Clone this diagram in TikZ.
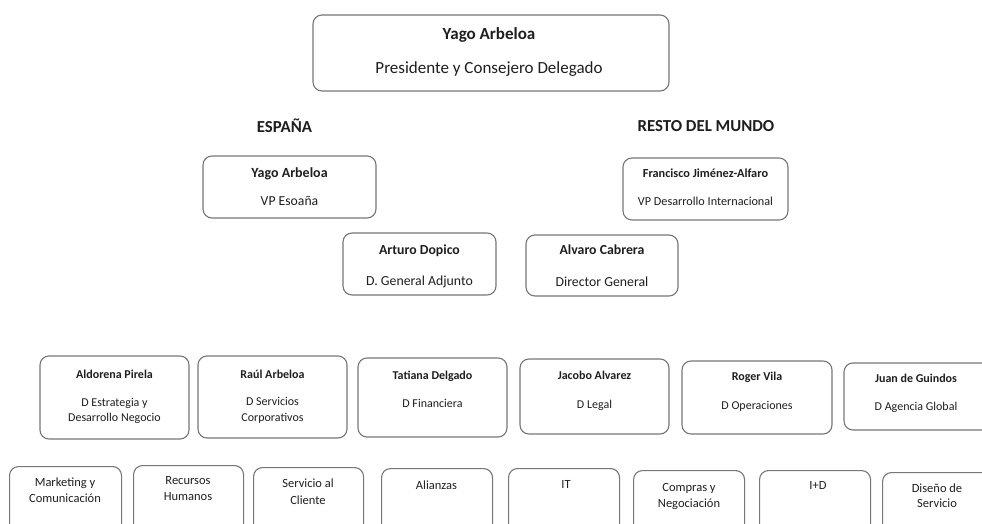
\documentclass[tikz,border=0pt]{standalone}
\usepackage{fontspec}
\setmainfont{Carlito}
\usepackage{tikz}
\usetikzlibrary{positioning}
\definecolor{bordegris}{RGB}{118,118,118}
\definecolor{textogris}{RGB}{30,30,30}
\tikzset{
 cargo/.style={draw=bordegris, line width=1.1pt, rounded corners=9pt},
 nombre/.style={text=textogris, anchor=mid, inner sep=0pt, font=\bfseries\fontsize{#1}{#1}\selectfont},
 nombre/.default=12,
 puesto/.style={text=textogris, anchor=mid, inner sep=0pt, font=\fontsize{#1}{#1}\selectfont},
 puesto/.default=12,
 area/.style={cargo, anchor=north west, minimum height=90pt}
}

\begin{document}
\begin{tikzpicture}[x=1pt, y=-1pt]
 \useasboundingbox (0,0) rectangle (982,524);
 \clip (0,0) rectangle (982,524);
 % presidencia
 \node[cargo, minimum width=356pt, minimum height=76pt] (presidente) at (491,53) {};
 \node[nombre=17] (presidenteN) at (489,37) {Yago Arbeloa};
 \node[puesto=17] (presidenteP) at (489,71) {Presidente y Consejero Delegado};
 \node[nombre=16.8] (espana) at (284.5,130) {ESPAÑA};
 \node[nombre=16.8] (mundo) at (706,129) {RESTO DEL MUNDO};
 % vicepresidencias
 \node[cargo, minimum width=173pt, minimum height=62pt] (vpEsp) at (289.5,187) {};
 \node[nombre=14] (vpEspN) at (289.5,175) {Yago Arbeloa};
 \node[puesto=13.7] (vpEspP) at (289.5,203) {VP Esoaña};
 \node[cargo, minimum width=165pt, minimum height=62pt] (vpInt) at (705.5,189) {};
 \node[nombre=12.3] (vpIntN) at (705.5,175) {Francisco Jiménez-Alfaro};
 \node[puesto=12.2] (vpIntP) at (705.5,203) {VP Desarrollo Internacional};
 \node[cargo, minimum width=153pt, minimum height=62pt] (adjunto) at (419.5,264) {};
 \node[nombre=13.8] (adjuntoN) at (419.5,252) {Arturo Dopico};
 \node[puesto=13.8] (adjuntoP) at (419.5,283) {D. General Adjunto};
 \node[cargo, minimum width=152pt, minimum height=61pt] (general) at (602,265.5) {};
 \node[nombre=13.8] (generalN) at (602,252) {Alvaro Cabrera};
 \node[puesto=13.8] (generalP) at (602,284) {Director General};
 % direcciones
 \node[cargo, minimum width=149pt, minimum height=83pt] (estrategia) at (114.5,397.5) {};
 \node[nombre] (estrategiaN) at (114.5,376) {Aldorena Pirela};
 \node[puesto] (estrategiaP) at (114.5,404) {D Estrategia y};
 \node[puesto] (estrategiaQ) at (114.5,419) {Desarrollo Negocio};
 \node[cargo, minimum width=149pt, minimum height=82pt] (servicios) at (272.5,397) {};
 \node[nombre] (serviciosN) at (272.5,376) {Raúl Arbeloa};
 \node[puesto] (serviciosP) at (272.5,403) {D Servicios};
 \node[puesto] (serviciosQ) at (272.5,419) {Corporativos};
 \node[cargo, minimum width=149pt, minimum height=79pt] (financiera) at (432.5,397.5) {};
 \node[nombre] (financieraN) at (432.5,377) {Tatiana Delgado};
 \node[puesto] (financieraP) at (432.5,405) {D Financiera};
 \node[cargo, minimum width=149pt, minimum height=75pt] (legal) at (594.5,396.5) {};
 \node[nombre] (legalN) at (594.5,377) {Jacobo Alvarez};
 \node[puesto] (legalP) at (594.5,406) {D Legal};
 \node[cargo, minimum width=150pt, minimum height=73pt] (operaciones) at (757,397.5) {};
 \node[nombre] (operacionesN) at (757,378) {Roger Vila};
 \node[puesto] (operacionesP) at (757,407) {D Operaciones};
 \node[cargo, minimum width=149pt, minimum height=67pt] (agencia) at (918.5,396.5) {};
 \node[nombre] (agenciaN) at (916,380) {Juan de Guindos};
 \node[puesto] (agenciaP) at (916,408) {D Agencia Global};
 % areas
 \node[area, minimum width=112pt] (marketing) at (9,466) {};
 \node[puesto=12.5] (marketingP) at (65,484) {Marketing y};
 \node[puesto=12.5] (marketingQ) at (65,500) {Comunicación};
 \node[area, minimum width=110pt] (rrhh) at (133,465) {};
 \node[puesto=12.5] (rrhhP) at (188,482) {Recursos};
 \node[puesto=12.5] (rrhhQ) at (188,498) {Humanos};
 \node[area, minimum width=110pt] (cliente) at (253,467) {};
 \node[puesto=12.5] (clienteP) at (308,485) {Servicio al};
 \node[puesto=12.5] (clienteQ) at (308,502) {Cliente};
 \node[area, minimum width=111pt] (alianzas) at (381,468) {};
 \node[puesto=12.5] (alianzasP) at (436.5,487) {Alianzas};
 \node[area, minimum width=111pt] (it) at (508,468) {};
 \node[puesto=12.5] (itP) at (566,486) {IT};
 \node[area, minimum width=111pt] (compras) at (633,470) {};
 \node[puesto=12.5] (comprasP) at (689,489) {Compras y};
 \node[puesto=12.5] (comprasQ) at (689,505) {Negociación};
 \node[area, minimum width=111pt] (imasd) at (759,470) {};
 \node[puesto=12.5] (imasdP) at (818,487) {I+D};
 \node[area, minimum width=111pt] (diseno) at (882,472) {};
 \node[puesto=12.5] (disenoP) at (937,490) {Diseño de};
 \node[puesto=12.5] (disenoQ) at (937,505) {Servicio};
\end{tikzpicture}
\end{document}
